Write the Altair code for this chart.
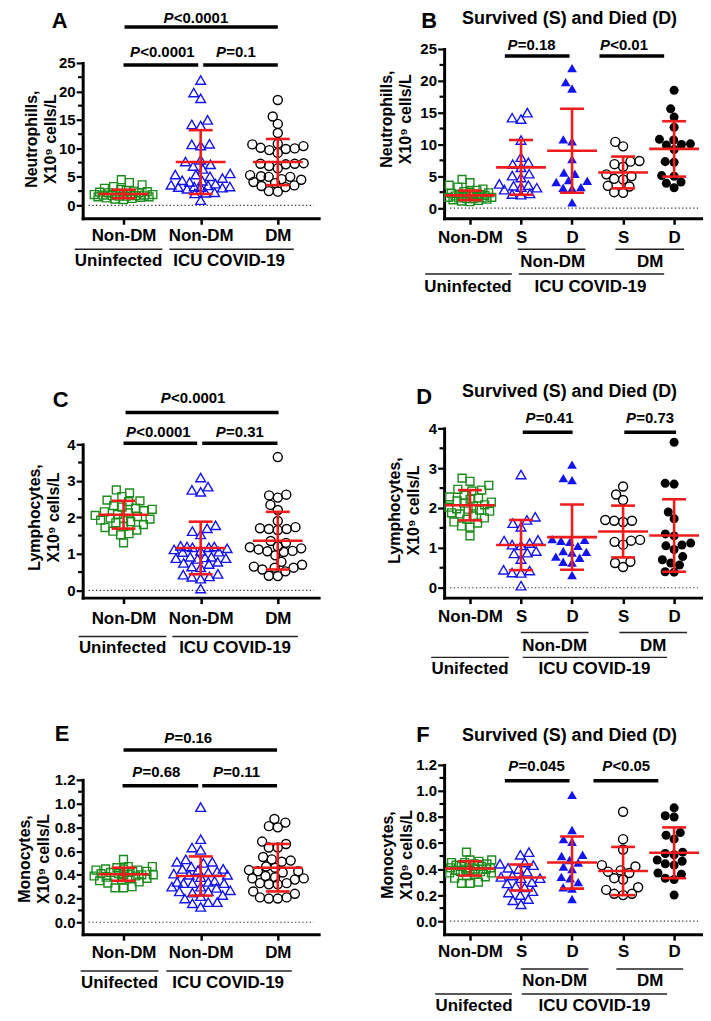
import json
import math
import altair as alt
import pandas as pd

FONT = "Liberation Sans"
GREEN = "#1c8c1c"
BLUE = "#1414ee"
RED = "#ee1c1c"

# ---------------- values ----------------
# Neutrophils, x10^9 cells/L
neu_uninf = [4.5, 4.0, 3.6, 3.3, 3.0, 2.8, 2.6, 2.5, 2.4, 2.3, 2.2, 2.2, 2.1, 2.0, 2.0,
             1.9, 1.9, 1.8, 1.8, 1.7, 1.7, 1.6, 1.6, 1.5, 1.5, 1.4, 1.3, 1.2, 1.1, 1.0]
neu_nondm_s = [15.0, 14.2, 14.0, 10.7, 8.0, 7.2, 6.9, 6.4, 5.4, 5.1, 4.8, 3.8, 3.6, 3.5,
               3.3, 3.2, 2.9, 2.3, 2.2, 2.1]
neu_nondm_d = [22.0, 19.8, 18.8, 10.8, 10.5, 7.7, 5.6, 5.4, 4.4, 4.3, 4.1, 3.3, 3.2, 3.1, 0.9]
neu_dm_s = [10.4, 9.7, 7.4, 7.3, 6.9, 6.5, 5.3, 5.0, 4.6, 4.5, 3.5, 3.4, 2.5, 2.4]
neu_dm_d = [18.5, 15.6, 14.3, 12.7, 10.8, 10.7, 10.1, 10.0, 9.9, 9.2, 7.3, 7.2, 5.1, 5.0,
            4.1, 3.9, 3.2]
neu_msd3 = [(2.0, 0.75), (7.6, 5.6), (7.6, 4.05)]
neu_msd5 = [(2.0, 0.75), (6.4, 4.3), (9.0, 6.6), (5.6, 2.5), (9.3, 4.35)]

# Lymphocytes, x10^9 cells/L
lym_uninf = [2.75, 2.67, 2.57, 2.47, 2.45, 2.43, 2.32, 2.28, 2.25, 2.22, 2.18, 2.15, 2.12,
             2.08, 2.05, 2.02, 1.98, 1.97, 1.95, 1.92, 1.88, 1.85, 1.80, 1.75, 1.72, 1.65,
             1.62, 1.55, 1.52, 1.30]
lym_nondm_s = [2.84, 1.78, 1.70, 1.62, 1.53, 1.20, 1.18, 1.12, 1.08, 1.06, 0.92, 0.88, 0.86,
               0.72, 0.45, 0.43, 0.38, 0.37, 0.05]
lym_nondm_d = [3.09, 2.75, 2.70, 1.22, 1.20, 1.18, 1.15, 1.05, 0.92, 0.90, 0.88, 0.78, 0.75,
               0.65, 0.63, 0.32]
lym_dm_s = [2.54, 2.34, 2.20, 1.70, 1.68, 1.68, 1.65, 1.20, 1.18, 1.15, 1.08, 0.65, 0.62, 0.52]
lym_dm_d = [3.65, 2.62, 2.60, 1.90, 1.73, 1.35, 1.30, 1.12, 1.07, 1.05, 0.96, 0.78, 0.70,
            0.62, 0.57, 0.40, 0.39]
lym_msd3 = [(2.07, 0.38), (1.16, 0.72), (1.36, 0.79)]
lym_msd5 = [(2.07, 0.38), (1.07, 0.63), (1.27, 0.82), (1.41, 0.65), (1.31, 0.91)]

# Monocytes, x10^9 cells/L
mono_uninf = [0.53, 0.47, 0.47, 0.46, 0.45, 0.45, 0.44, 0.44, 0.43, 0.43, 0.42, 0.42, 0.41,
              0.41, 0.40, 0.40, 0.40, 0.39, 0.39, 0.38, 0.38, 0.37, 0.37, 0.36, 0.35, 0.34,
              0.33, 0.30, 0.29, 0.29]
mono_nondm_s = [0.53, 0.51, 0.45, 0.44, 0.43, 0.41, 0.40, 0.38, 0.35, 0.34, 0.33, 0.33, 0.30,
                0.29, 0.27, 0.26, 0.23, 0.22, 0.20, 0.17, 0.16, 0.13]
mono_nondm_d = [0.97, 0.70, 0.63, 0.61, 0.51, 0.50, 0.47, 0.45, 0.42, 0.40, 0.34, 0.33, 0.30,
                0.26, 0.25, 0.17]
mono_dm_s = [0.84, 0.63, 0.55, 0.43, 0.42, 0.39, 0.38, 0.37, 0.33, 0.32, 0.26, 0.24, 0.21,
             0.21, 0.20]
mono_dm_d = [0.87, 0.81, 0.80, 0.68, 0.66, 0.63, 0.53, 0.52, 0.51, 0.47, 0.46, 0.44, 0.43,
             0.37, 0.36, 0.33, 0.32, 0.20]
mono_msd3 = [(0.405, 0.055), (0.39, 0.165), (0.46, 0.2)]
mono_msd5 = [(0.405, 0.055), (0.335, 0.1), (0.45, 0.2), (0.385, 0.185), (0.525, 0.195)]

xlab3 = ["Non-DM", "Non-DM", "DM"]
xlab5 = ["Non-DM", "S", "D", "S", "D"]

# y-axis ticks (major labelled, minor unlabelled)
T25 = [0, 5, 10, 15, 20, 25]
M25 = [2.5, 7.5, 12.5, 17.5, 22.5]
T4 = [0, 1, 2, 3, 4]
M4 = [0.5, 1.5, 2.5, 3.5]
T12 = [0.0, 0.2, 0.4, 0.6, 0.8, 1.0, 1.2]
M12 = [0.1, 0.3, 0.5, 0.7, 0.9, 1.1]

# ---------------- styles ----------------
STY = {
    "sq": dict(shape="square", color=GREEN, filled=False, size=62, strokeWidth=1.4),
    "tri_o": dict(shape="triangle-up", color=BLUE, filled=False, size=95, strokeWidth=1.4),
    "tri_f": dict(shape="triangle-up", color=BLUE, filled=True, size=95, strokeWidth=1.4),
    "cir_o": dict(shape="circle", color="black", filled=False, size=82, strokeWidth=1.4),
    "cir_f": dict(shape="circle", color="black", filled=True, size=82, strokeWidth=1.4),
}
CW = {"P": 0.667, "<": 0.584, "=": 0.584, ".": 0.278}
for ch in "0123456789":
    CW[ch] = 0.556


def tw(s, fs):
    return sum(CW.get(c, 0.6) for c in s) * fs


def swarm(vals, ppy, d, maxw):
    order = sorted(range(len(vals)), key=lambda i: vals[i])
    placed = []
    xs = [0.0] * len(vals)
    for i in order:
        y = vals[i] * ppy
        dd = d
        ok = None
        while ok is None:
            if dd < 0.5:
                ok = 0.0
                break
            cands = [0.0]
            for (xj, yj) in placed:
                dy = abs(y - yj)
                if dy < dd:
                    dx = math.sqrt(dd * dd - dy * dy)
                    cands += [xj + dx, xj - dx]
            cands = [c for c in cands if abs(c) <= maxw + 1e-9]
            cands.sort(key=lambda c: (round(abs(c), 6), c))
            for c in cands:
                if all((c - xj) ** 2 + (y - yj) ** 2 >= dd * dd - 1e-6 for xj, yj in placed):
                    ok = c
                    break
            dd *= 0.85
        xs[i] = ok
        placed.append((ok, y))
    return xs


def make_panel(p, anchor=False):
    W, H = p["W"], p["H"]
    xdom, ydom, yr = p["xdom"], p["ydom"], p["yrange"]
    ppx = W / (xdom[1] - xdom[0])
    ppy = (yr[0] - yr[1]) / (ydom[1] - ydom[0])
    xsc = alt.Scale(domain=xdom, nice=False, zero=False)
    ysc = alt.Scale(domain=ydom, range=yr, nice=False, zero=False)
    n = len(p["groups"])
    xaxis = alt.Axis(values=list(range(n)), tickCount=50,
                     labelExpr=json.dumps(p["xlabels"]) + "[datum.value]",
                     title=None, labelPadding=p["xpad"])
    yaxis = alt.Axis(values=p["yticks"], tickCount=50, format=p["yfmt"], title=p["ytitle"],
                     titleX=p["titleX"], titleY=p["titleY"])

    eb = pd.DataFrame({"g": list(range(n)),
                       "m": [m for m, s in p["msd"]],
                       "lo": [m - s for m, s in p["msd"]],
                       "hi": [m + s for m, s in p["msd"]]})
    base = alt.Chart(eb)
    ex = alt.X("g:Q", scale=xsc)

    layers = []
    # axis-carrying layer (invisible)
    layers.append(base.mark_point(opacity=0).encode(
        x=alt.X("g:Q", scale=xsc, axis=xaxis),
        y=alt.Y("m:Q", scale=ysc, axis=yaxis)))
    # minor ticks of the y axis
    layers.append(alt.Chart(pd.DataFrame({"v": p["yminor"]})).mark_rule(
        strokeWidth=2.2, color="black").encode(
        y=alt.Y("v:Q", scale=ysc), x=alt.value(-4.6), x2=alt.value(0)))
    # dotted zero line
    layers.append(alt.Chart(pd.DataFrame({"v": [0.0]})).mark_rule(
        strokeDash=[1.3, 2.4], strokeWidth=1.1, color="#333333").encode(
        y=alt.Y("v:Q", scale=ysc), x=alt.value(6), x2=alt.value(W - 5)))
    # points
    for gi, (vals, sty) in enumerate(zip(p["groups"], p["styles"])):
        offs = swarm(vals, ppy, 8.6 if sty == "sq" else 9.0, p["maxw"])
        df = pd.DataFrame({"x": [gi + o / ppx for o in offs], "v": vals})
        layers.append(alt.Chart(df).mark_point(opacity=1, **STY[sty]).encode(
            x=alt.X("x:Q", scale=xsc), y=alt.Y("v:Q", scale=ysc)))
    # mean +/- SD
    layers.append(base.mark_rule(color=RED, strokeWidth=2.6).encode(
        x=ex, y=alt.Y("lo:Q", scale=ysc), y2="hi:Q"))
    layers.append(base.mark_tick(orient="horizontal", size=50, thickness=2.6, color=RED,
                                 opacity=1).encode(x=ex, y=alt.Y("m:Q", scale=ysc)))
    for col in ["lo", "hi"]:
        layers.append(base.mark_tick(orient="horizontal", size=24, thickness=2.6, color=RED,
                                     opacity=1).encode(x=ex, y=alt.Y(col + ":Q", scale=ysc)))
    # significance brackets
    br = pd.DataFrame(p["brackets"], columns=["x1", "x2", "py"])
    layers.append(alt.Chart(br).mark_rule(strokeWidth=3.5, color="black").encode(
        x=alt.X("x1:Q", scale=xsc), x2="x2:Q", y=alt.Y("py:Q", scale=None)))
    # P values: italic P + rest
    fs = 15
    rows = []
    for cx, py, rest in p["ptexts"]:
        b = cx + (tw("P", fs) - tw(rest, fs)) / 2 / ppx
        rows.append({"bx": b, "py": py, "p": "P", "r": rest})
    pdf = pd.DataFrame(rows)
    layers.append(alt.Chart(pdf).mark_text(
        align="right", baseline="middle", font=FONT, fontSize=fs, fontWeight="bold",
        fontStyle="italic", color="black", dx=-0.3).encode(
        x=alt.X("bx:Q", scale=xsc), y=alt.Y("py:Q", scale=None), text="p:N"))
    layers.append(alt.Chart(pdf).mark_text(
        align="left", baseline="middle", font=FONT, fontSize=fs, fontWeight="bold",
        color="black").encode(
        x=alt.X("bx:Q", scale=xsc), y=alt.Y("py:Q", scale=None), text="r:N"))
    # group underlines and labels below the axis
    ul = pd.DataFrame(p["underlines"], columns=["x1", "x2", "py"])
    layers.append(alt.Chart(ul).mark_rule(strokeWidth=1.5, color="#222222").encode(
        x=alt.X("x1:Q", scale=xsc), x2="x2:Q", y=alt.Y("py:Q", scale=None)))
    gl = pd.DataFrame(p["glabels"], columns=["cx", "py", "t"])
    layers.append(alt.Chart(gl).mark_text(
        align="center", baseline="middle", font=FONT, fontSize=17, fontWeight="bold",
        color="black").encode(
        x=alt.X("cx:Q", scale=xsc), y=alt.Y("py:Q", scale=None), text="t:N"))
    # panel letter
    lx, ly = p["letter_pos"]
    layers.append(alt.Chart(pd.DataFrame({"t": [p["letter"]]})).mark_text(
        align="left", baseline="alphabetic", font=FONT, fontSize=22, fontWeight="bold",
        color="black").encode(x=alt.value(lx), y=alt.value(ly), text="t:N"))
    if p.get("subtitle"):
        sx, sy = p["subtitle_pos"]
        layers.append(alt.Chart(pd.DataFrame({"t": [p["subtitle"]]})).mark_text(
            align="center", baseline="middle", font=FONT, fontSize=18, fontWeight="bold",
            color="black").encode(x=alt.value(sx), y=alt.value(sy), text="t:N"))
    if anchor:
        layers.append(alt.Chart(pd.DataFrame({"a": [0]})).mark_rule(
            color="white", strokeWidth=0.2).encode(
            x=alt.value(-74.9), x2=alt.value(-74.0), y=alt.value(-38.9)))
    return alt.layer(*layers).properties(width=W, height=H)


X3 = [-0.53, 2.53]
X5 = [-0.507, 4.566]

pA = dict(W=237, H=170, xdom=X3, ydom=[-2.27, 25], yrange=[170, 14],
          groups=[neu_uninf, neu_nondm_s + neu_nondm_d, neu_dm_s + neu_dm_d],
          styles=["sq", "tri_o", "cir_o"], msd=neu_msd3, maxw=30,
          yticks=T25, yminor=M25, yfmt="d", xlabels=xlab3, xpad=3.7,
          ytitle=["Neutrophills,", "X10\u2079 cells/L"], titleX=-51, titleY=90,
          brackets=[(0.013, 2.0, -22), (0.0, 0.968, 16), (1.033, 2.0, 16)],
          ptexts=[(0.94, -31.5, "<0.0001"), (0.504, 3, "<0.0001"), (1.459, 3, "=0.1")],
          underlines=[(-0.633, 0.504, 201), (0.594, 2.208, 201)],
          glabels=[(-0.065, 213, "Uninfected"), (1.369, 213, "ICU COVID-19")],
          letter="A", letter_pos=(-31, -21))

pB = dict(W=260, H=170, xdom=X5, ydom=[-1.6, 25], yrange=[170, 0],
          groups=[neu_uninf, neu_nondm_s, neu_nondm_d, neu_dm_s, neu_dm_d],
          styles=["sq", "tri_o", "tri_f", "cir_o", "cir_f"], msd=neu_msd5, maxw=22,
          yticks=T25, yminor=M25, yfmt="d", xlabels=xlab5, xpad=5.7,
          ytitle=["Neutrophills,", "X10\u2079 cells/L"], titleX=-58, titleY=70,
          brackets=[(0.683, 1.951, 7), (2.537, 3.805, 7)],
          ptexts=[(1.21, -4, "=0.18"), (3.02, -4, "<0.01")],
          underlines=[(0.937, 2.263, 201), (2.849, 4.195, 201),
                      (-0.878, 0.82, 226), (0.956, 3.805, 226)],
          glabels=[(1.62, 214, "Non-DM"), (3.53, 214, "DM"),
                   (-0.039, 239, "Uninfected"), (2.361, 239, "ICU COVID-19")],
          letter="B", letter_pos=(-23, -21),
          subtitle="Survived (S) and Died (D)", subtitle_pos=(126, -30))

pC = dict(W=237, H=213, xdom=X3, ydom=[-0.2, 4], yrange=[213, 59],
          groups=[lym_uninf, lym_nondm_s + lym_nondm_d, lym_dm_s + lym_dm_d],
          styles=["sq", "tri_o", "cir_o"], msd=lym_msd3, maxw=30,
          yticks=T4, yminor=M4, yfmt="d", xlabels=xlab3, xpad=6.7,
          ytitle=["Lymphocytes,", "X10\u2079 cells/L"], titleX=-48, titleY=132,
          brackets=[(0.026, 2.01, 27), (0.0, 0.955, 58), (1.02, 1.996, 58)],
          ptexts=[(0.904, 13, "<0.0001"), (0.452, 47, "<0.0001"), (1.51, 47, "=0.31")],
          underlines=[(-0.581, 0.555, 252), (0.633, 2.26, 252)],
          glabels=[(-0.013, 264, "Uninfected"), (1.446, 264, "ICU COVID-19")],
          letter="C", letter_pos=(-30, 22))

pD = dict(W=260, H=213, xdom=X5, ydom=[-0.25, 4], yrange=[213, 43],
          groups=[lym_uninf, lym_nondm_s, lym_nondm_d, lym_dm_s, lym_dm_d],
          styles=["sq", "tri_o", "tri_f", "cir_o", "cir_f"], msd=lym_msd5, maxw=22,
          yticks=T4, yminor=M4, yfmt="d", xlabels=xlab5, xpad=4.7,
          ytitle=["Lymphocytes,", "X10\u2079 cells/L"], titleX=-50, titleY=125,
          brackets=[(1.034, 2.01, 47), (3.024, 4.039, 47)],
          ptexts=[(1.56, 33, "=0.41"), (3.53, 33, "=0.73")],
          underlines=[(0.995, 2.322, 248), (2.927, 4.254, 248),
                      (-0.761, 0.761, 273), (1.034, 3.863, 273)],
          glabels=[(1.659, 262, "Non-DM"), (3.59, 262, "DM"),
                   (0.0, 285, "Unifected"), (2.439, 285, "ICU COVID-19")],
          letter="D", letter_pos=(-28, 19),
          subtitle="Survived (S) and Died (D)", subtitle_pos=(126, 7))

pE = dict(W=237, H=170, xdom=X3, ydom=[-0.1, 1.2], yrange=[170, 15],
          groups=[mono_uninf, mono_nondm_s + mono_nondm_d, mono_dm_s + mono_dm_d],
          styles=["sq", "tri_o", "cir_o"], msd=mono_msd3, maxw=30,
          yticks=T12, yminor=M12, yfmt=".1f", xlabels=xlab3, xpad=4.7,
          ytitle=["Monocytes,", "X10\u2079 cells/L"], titleX=-58, titleY=94,
          brackets=[(0.0, 1.99, -15), (-0.013, 0.968, 21), (1.02, 1.99, 21)],
          ptexts=[(0.84, -27, "=0.16"), (0.426, 7, "=0.68"), (1.472, 7, "=0.11")],
          underlines=[(-0.555, 0.452, 207), (0.555, 2.182, 207)],
          glabels=[(-0.052, 219, "Unifected"), (1.356, 219, "ICU COVID-19")],
          letter="E", letter_pos=(-28, -24))

pF = dict(W=260, H=170, xdom=X5, ydom=[-0.1, 1.2], yrange=[170, 0],
          groups=[mono_uninf, mono_nondm_s, mono_nondm_d, mono_dm_s, mono_dm_d],
          styles=["sq", "tri_o", "tri_f", "cir_o", "cir_f"], msd=mono_msd5, maxw=22,
          yticks=T12, yminor=M12, yfmt=".1f", xlabels=xlab5, xpad=3.7,
          ytitle=["Monocytes,", "X10\u2079 cells/L"], titleX=-57, titleY=90,
          brackets=[(0.683, 1.951, 16), (2.42, 3.69, 16)],
          ptexts=[(1.307, 1, "=0.045"), (3.063, 1, "<0.05")],
          underlines=[(0.995, 2.322, 205), (2.868, 4.176, 205),
                      (-0.683, 0.82, 230), (1.015, 3.863, 230)],
          glabels=[(1.659, 217, "Non-DM"), (3.532, 217, "DM"),
                   (0.078, 242, "Unifected"), (2.439, 242, "ICU COVID-19")],
          letter="F", letter_pos=(-28, -23),
          subtitle="Survived (S) and Died (D)", subtitle_pos=(126, -29))

panels = [make_panel(pA, anchor=True), make_panel(pB), make_panel(pC),
          make_panel(pD), make_panel(pE), make_panel(pF)]

chart = alt.concat(*panels, columns=2, spacing={"row": 168, "column": 126},
                   bounds="flush").properties(padding=0).configure(
    font=FONT).configure_view(stroke=None).configure_axis(
    grid=False, domainColor="black", domainWidth=3, domainCap="square",
    tickColor="black", labelFont=FONT, labelFontWeight="bold", labelColor="black",
    labelOverlap=False, labelFlush=False, labelBound=False, titleFont=FONT,
    titleFontWeight="bold", titleColor="black").configure_axisX(
    tickSize=6, tickWidth=2.5, labelFontSize=17, labelAngle=0).configure_axisY(
    tickSize=6.5, tickWidth=2.2, labelFontSize=15, labelPadding=1.2, titleFontSize=16,
    titleBaseline="middle", titleAlign="center", titleLineHeight=19)

chart.save("out.html", embed_options={"renderer": "svg", "actions": False})
